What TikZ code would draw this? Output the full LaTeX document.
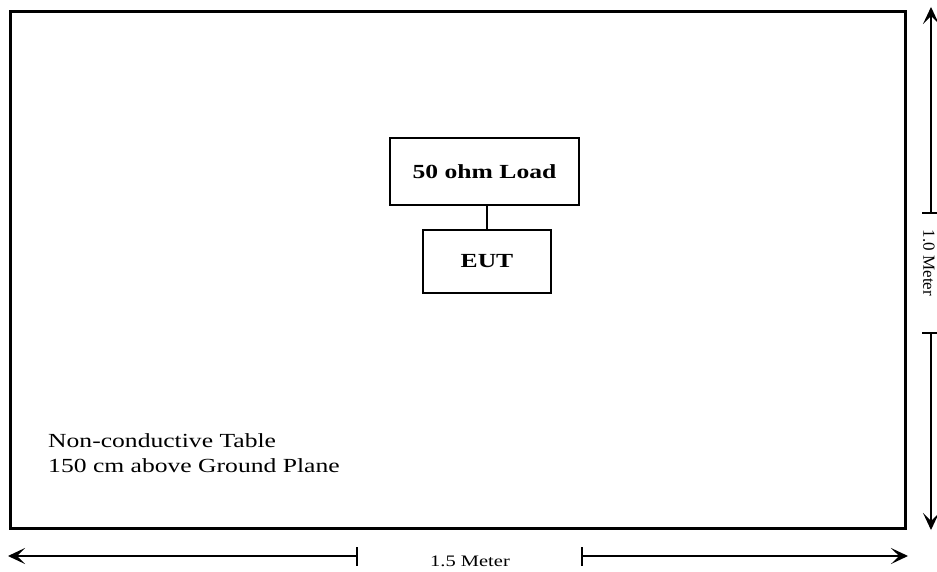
\documentclass[tikz,border=0pt]{standalone}
\usepackage{fontspec}
\setmainfont{Liberation Serif}
\newfontfamily\widefont[FakeStretch=1.28]{Liberation Serif}
\usetikzlibrary{arrows.meta, positioning}

\begin{document}
\begin{tikzpicture}[
  x=1pt, y=-1pt,
  every node/.style = {font=\widefont\fontsize{20}{25}\selectfont},
  tablebox/.style = {draw, line width=3pt, minimum width=895pt, minimum height=517pt, inner sep=0pt},
  unitbox/.style = {draw, line width=1.2pt, inner sep=0pt, font=\widefont\fontsize{20}{24}\selectfont\bfseries},
  note/.style = {align=left, inner sep=0pt},
  dimlabel/.style = {font=\widefont\fontsize{16}{18}\selectfont, inner sep=0pt},
  dim/.style = {-{Stealth[length=17pt, width=16pt, inset=8pt]}, line width=1.2pt},
  tick/.style = {line width=1.2pt}
]
\useasboundingbox (0,0) rectangle (937,572);

\node[tablebox] (table) at (458,270) {};

\node[unitbox, minimum width=189pt, minimum height=67pt] (load) at (484.5,171.5) {50 ohm Load};
\node[unitbox, minimum width=128pt, minimum height=63pt] (eut) at (487,261.5) {EUT};
\draw[line width=1.2pt] (eut.north) -- (eut.north |- load.south);

\node[note, anchor=base west] (tabletext) at (48,472)
  {Non-conductive Table\\150 cm above Ground Plane};

% width of the table
\coordinate (wleft) at (8,556);
\coordinate (wright) at (908,556);
\coordinate (wtickl) at (357,556);
\coordinate (wtickr) at (582,556);
\node[dimlabel] (wide) at (470,561) {1.5 Meter};
\draw[dim] (wtickl) -- (wleft);
\draw[dim] (wtickr) -- (wright);
\draw[tick] ([yshift=9pt]wtickl) -- ([yshift=-10pt]wtickl);
\draw[tick] ([yshift=9pt]wtickr) -- ([yshift=-10pt]wtickr);

% depth of the table
\coordinate (dtop) at (931,7);
\coordinate (dbottom) at (931,530);
\coordinate (dtickt) at (931,213);
\coordinate (dtickb) at (931,333);
\node[dimlabel, font=\fontsize{17}{18}\selectfont, rotate=-90] (deep) at (929,263) {1.0 Meter};
\draw[dim] (dtickt) -- (dtop);
\draw[dim] (dtickb) -- (dbottom);
\draw[tick] ([xshift=-9pt]dtickt) -- ([xshift=10pt]dtickt);
\draw[tick] ([xshift=-9pt]dtickb) -- ([xshift=10pt]dtickb);

\end{tikzpicture}
\end{document}
